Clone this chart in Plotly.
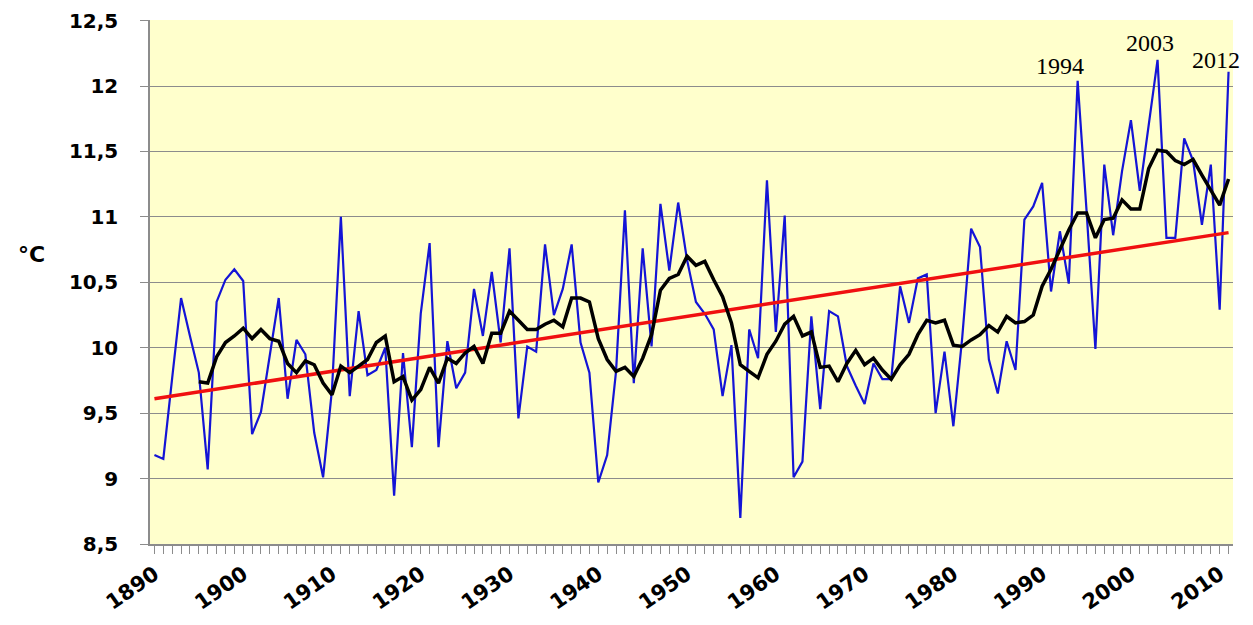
import plotly.graph_objects as go

# annual mean temperature, 1890 - 2011
years = list(range(1890, 2012))
temps = [
    9.18, 9.15, 9.77, 10.38, 10.09, 9.81, 9.07, 10.35, 10.52, 10.60,    # 1890s
    10.51, 9.34, 9.51, 9.95, 10.38, 9.61, 10.06, 9.95, 9.35, 9.01,     # 1900s
    9.68, 11.00, 9.63, 10.28, 9.79, 9.83, 10.00, 8.87, 9.96, 9.24,     # 1910s
    10.26, 10.80, 9.24, 10.05, 9.69, 9.81, 10.45, 10.09, 10.58, 10.04,  # 1920s
    10.76, 9.46, 10.01, 9.97, 10.79, 10.25, 10.45, 10.79, 10.04, 9.81,  # 1930s
    8.97, 9.18, 9.82, 11.05, 9.73, 10.76, 10.01, 11.10, 10.59, 11.11,   # 1940s
    10.67, 10.35, 10.26, 10.14, 9.63, 10.02, 8.70, 10.14, 9.92, 11.28,  # 1950s
    10.12, 11.01, 9.01, 9.13, 10.24, 9.53, 10.28, 10.24, 9.86, 9.71,    # 1960s
    9.57, 9.88, 9.76, 9.76, 10.47, 10.19, 10.53, 10.56, 9.50, 9.97,     # 1970s
    9.40, 10.08, 10.91, 10.77, 9.91, 9.65, 10.05, 9.83, 10.98, 11.08,   # 1980s
    11.26, 10.43, 10.89, 10.49, 12.04, 11.05, 9.99, 11.40, 10.86, 11.35,  # 1990s
    11.74, 11.20, 11.70, 12.20, 10.84, 10.84, 11.60, 11.43, 10.94, 11.40,  # 2000s
    10.29, 12.11,                                                        # 2010s
]

# moving average (black line), 1895 - 2011
ma_years = list(range(1895, 2012))
ma_temps = [
    9.74, 9.73, 9.93, 10.04, 10.09,
    10.15, 10.07, 10.14, 10.07, 10.05, 9.88, 9.81, 9.90, 9.87, 9.73,
    9.64, 9.86, 9.81, 9.86, 9.91, 10.04, 10.09, 9.74, 9.78, 9.60,
    9.68, 9.85, 9.73, 9.92, 9.88, 9.96, 10.01, 9.88, 10.11, 10.11,
    10.28, 10.21, 10.14, 10.14, 10.18, 10.21, 10.16, 10.38, 10.38, 10.35,
    10.07, 9.91, 9.82, 9.85, 9.78, 9.92, 10.10, 10.44, 10.53, 10.56,
    10.70, 10.63, 10.66, 10.52, 10.39, 10.19, 9.87, 9.82, 9.77, 9.95,
    10.05, 10.18, 10.24, 10.09, 10.12, 9.85, 9.86, 9.74, 9.88, 9.98,
    9.87, 9.92, 9.83, 9.76, 9.87, 9.95, 10.10, 10.21, 10.19, 10.21,
    10.02, 10.01, 10.06, 10.10, 10.17, 10.12, 10.24, 10.19, 10.20, 10.25,
    10.47, 10.60, 10.75, 10.90, 11.03, 11.03, 10.84, 10.98, 10.99, 11.13,
    11.06, 11.06, 11.37, 11.51, 11.50, 11.43, 11.40, 11.44, 11.32, 11.20,
    11.09, 11.29,
]

# linear trend (red line)
trend_years = [1890, 2011]
trend_temps = [9.61, 10.88]

y_ticks = [8.5, 9, 9.5, 10, 10.5, 11, 11.5, 12, 12.5]
y_ticktext = ['8,5', '9', '9,5', '10', '10,5', '11', '11,5', '12', '12,5']
x_ticks = list(range(1890, 2011, 10))

# labelled peaks: point on the line and the text shown above it
peak_years = [1994, 2003, 2011]
peak_labels = ['1994', '2003', '2012']
# pixel offsets of each label from its point
peak_shift = [(-18, 15), (-8, 17), (-13, 12)]

grid_color = '#8c8c8c'
tick_font = dict(family='DejaVu Sans', size=20, color='black')

fig = go.Figure()
fig.add_trace(go.Scatter(x=years, y=temps, mode='lines',
                         line=dict(color='#1414d6', width=2.2), showlegend=False))
fig.add_trace(go.Scatter(x=trend_years, y=trend_temps, mode='lines',
                         line=dict(color='#f01010', width=3.5), showlegend=False))
fig.add_trace(go.Scatter(x=ma_years, y=ma_temps, mode='lines',
                         line=dict(color='black', width=3.5), showlegend=False))

for yr, txt, (dx, dy) in zip(peak_years, peak_labels, peak_shift):
    fig.add_annotation(x=yr, y=temps[years.index(yr)], text=txt, showarrow=False,
                       xanchor='center', yanchor='middle', xshift=dx, yshift=dy,
                       font=dict(family='Liberation Serif', size=24, color='black'))

# axis title, written horizontally left of the tick labels
fig.add_annotation(x=-0.109, y=0.552, xref='paper', yref='paper', text='<b>°C</b>',
                   showarrow=False, xanchor='center', yanchor='middle',
                   font=dict(family='DejaVu Sans', size=22, color='black'))

# the page body adds an 8px margin, so the figure is offset to match
fig.update_layout(
    width=1237,
    height=617,
    margin=dict(l=142, r=12, t=12, b=81),
    paper_bgcolor='white',
    plot_bgcolor='#ffffcc',
    font=tick_font,
    xaxis=dict(
        range=[1889.5, 2011.5],
        automargin=False,
        tickmode='array',
        tickvals=x_ticks,
        ticktext=['<b>%d</b>' % v for v in x_ticks],
        tickangle=-35,
        tickfont=dict(family='DejaVu Sans', size=21, color='black'),
        ticks='outside',
        ticklen=8,
        tickcolor=grid_color,
        ticklabelstandoff=0,
        minor=dict(ticks='outside', dtick=1, tick0=1890, ticklen=8, tickcolor=grid_color),
        showgrid=False,
        showline=True,
        linecolor=grid_color,
        linewidth=1.5,
        zeroline=False,
    ),
    yaxis=dict(
        # tiny headroom so the 12,5 gridline is drawn along the top edge
        range=[8.5, 12.505],
        automargin=False,
        tickmode='array',
        tickvals=y_ticks,
        ticktext=['<b>%s</b>' % t for t in y_ticktext],
        tickfont=tick_font,
        ticks='outside',
        ticklen=8,
        tickcolor=grid_color,
        ticklabelstandoff=18,
        showgrid=True,
        gridcolor=grid_color,
        gridwidth=1.3,
        showline=True,
        linecolor=grid_color,
        linewidth=1.5,
        zeroline=False,
    ),
)

fig.write_html("out.html")
